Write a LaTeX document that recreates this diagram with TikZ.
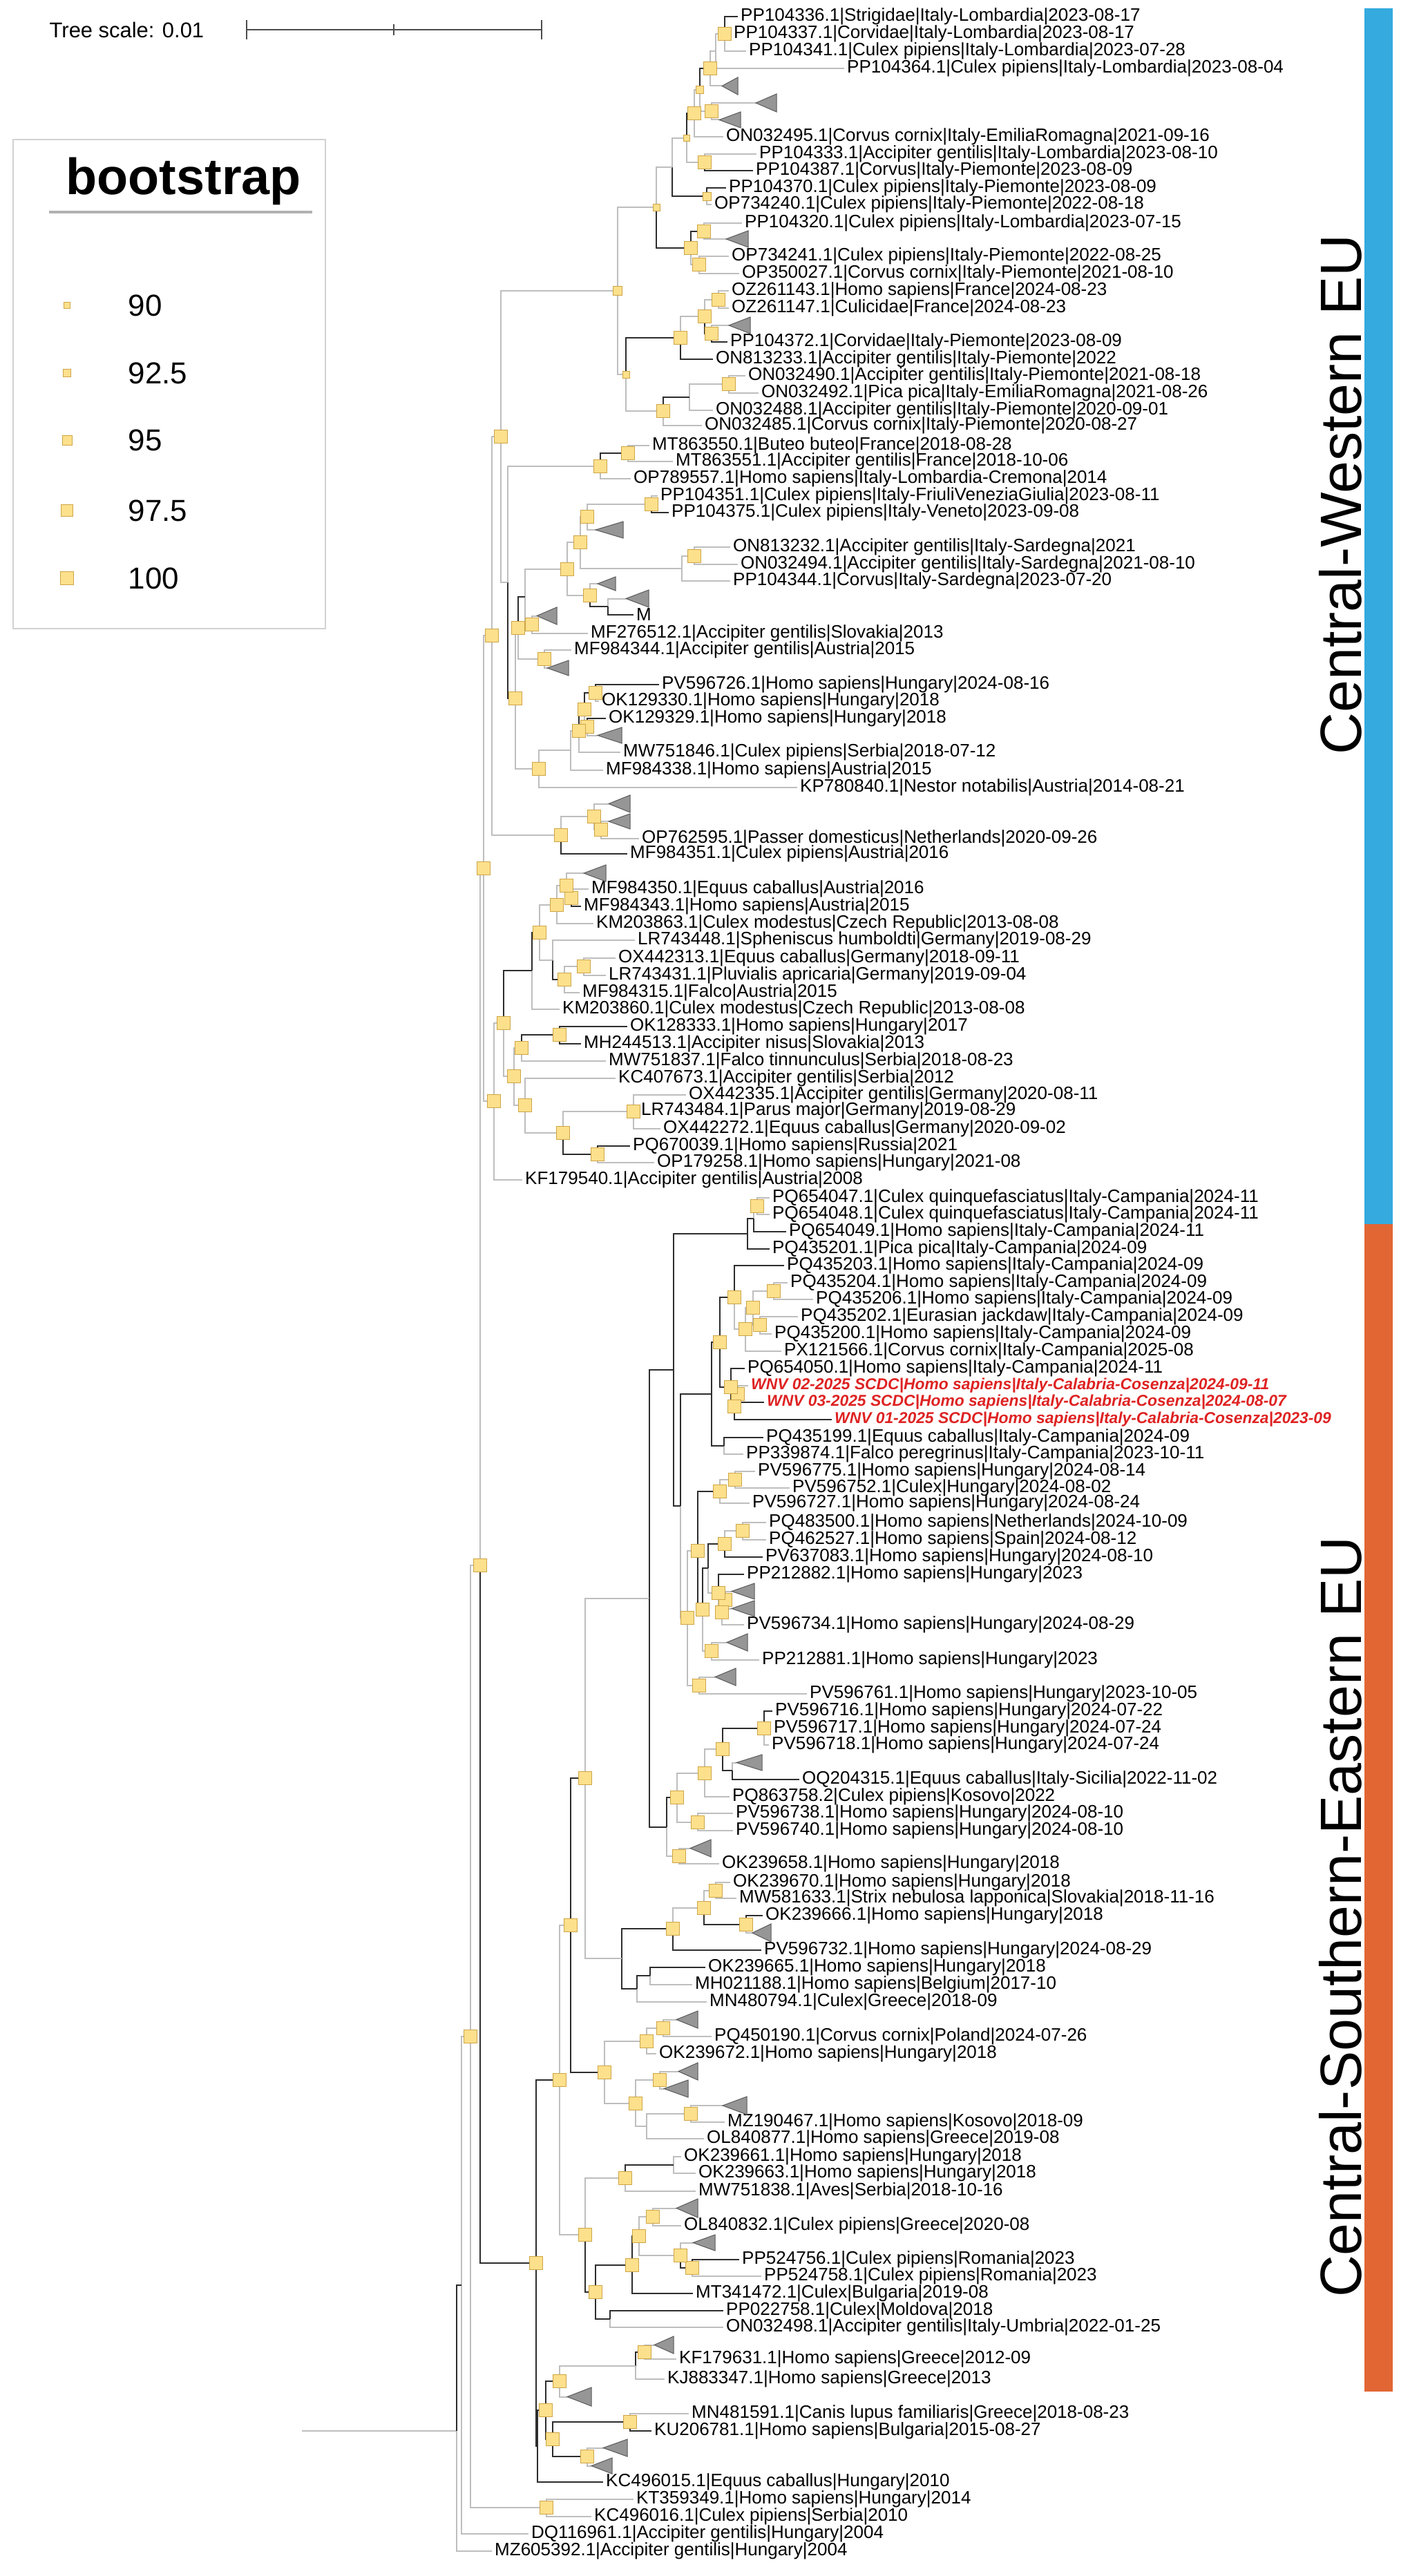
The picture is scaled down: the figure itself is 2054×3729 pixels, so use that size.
\documentclass[tikz,border=0pt]{standalone}
\usepackage{fontspec}
\setmainfont{Liberation Sans}
\usetikzlibrary{positioning}
\definecolor{brlt}{RGB}{190,190,190}
\definecolor{brdk}{RGB}{45,45,45}
\definecolor{bsfill}{RGB}{253,224,140}
\definecolor{bsedge}{RGB}{205,165,70}
\definecolor{trigray}{RGB}{150,150,150}
\definecolor{cwblue}{RGB}{52,170,222}
\definecolor{cseorange}{RGB}{226,102,52}
\definecolor{wnvred}{RGB}{222,34,34}
\newcommand{\leaffont}{\fontsize{7.4}{8}\selectfont}
\newcommand{\wnvfont}{\fontsize{6.5}{8}\selectfont\bfseries\itshape}

\begin{document}
\begin{tikzpicture}[x=0.1mm,y=-0.1mm]
\tikzstyle{lab}=[font=\leaffont, anchor=west, inner xsep=0.35mm, inner ysep=0pt]
\tikzstyle{labw}=[lab, font=\wnvfont, text=wnvred]
\tikzstyle{br}=[line width=0.2mm]
\tikzstyle{bs}=[rectangle, fill=bsfill, draw=bsedge, line width=0.1mm, inner sep=0pt]
\tikzstyle{tri}=[fill=trigray, draw=gray!70!black, line width=0.1mm]
\useasboundingbox (0,0) rectangle (2054,3729);

% internal nodes
\foreach \n/\x/\y/\p/\k in {
a1/1049/49/a2/brlt, a2/1036/74/a3/brlt, a3/1028/99/a6/brdk, a5/1030/161/a6/brlt,
a6/1013/130/a7/brlt, a7/1005/164/a10/brdk, a8/1020/235/a10/brlt, a10/994/200/a11/brlt,
a9/1023/284/a11/brdk, a11/973/242/a15/brlt, a12/1019/335/a14/brdk, a13/1012/383/a14/brlt,
a14/1000/359/a15/brdk, a15/950/300/a24/brlt, a16/1040/434/a18/brlt, a17/1030/483/a18/brdk,
a18/1020/458/a19/brlt, a19/985/489/a23/brdk, a20/1055/556/a21/brlt, a21/998/575/a22/brdk,
a22/960/595/a23/brlt, a23/906/542/a24/brlt, a24/894/421/b1/brlt,
a25/909/656/a26/brdk, a26/869/675/a39/brlt, a27/943/730/a28/brlt, a28/850/748/a31/brlt,
a29/1005/805/a30/brlt, a30/987/823/a31/brlt, a31/840/785/a34/brlt, a32/880/878/a33/brdk,
a33/854/862/a34/brlt, a34/821/824/a36/brlt, a35/770/904/a36/brlt, a36/760/864/a38/brdk,
a37/788/954/a38/brlt, a38/750/909/a47/brlt, a41/862/1003/a43/brdk, a42/850/1052/a43/brlt,
a43/846/1027/a44/brdk, a44/838/1058/a45/brlt, a45/826/1086/a46/brlt, a46/780/1113/a47/brlt,
a47/746/1011/a39/brdk, a39/735/843/b1/brlt, b1/725/632/b2/brlt,
a48/870/1201/a49/brlt, a49/860/1182/a50/brlt, a50/812/1209/b2/brlt, b2/712/920/b3/brlt,
a51/827/1300/a52/brlt, a52/820/1282/a53/brlt, a53/806/1310/a57/brlt, a54/845/1399/a55/brlt,
a55/817/1418/a56/brdk, a56/800/1390/a57/brlt, a57/781/1350/a58/brdk, a58/770/1405/a66/brdk,
a59/810/1498/a60/brdk, a60/755/1517/a65/brlt, a61/917/1609/a63/brlt, a62/865/1671/a63/brdk,
a63/815/1640/a64/brlt, a64/760/1600/a65/brlt, a65/744/1558/a66/brlt, a66/729/1481/a67/brlt,
a67/715/1594/b3/brlt, b3/700/1257/g4/brlt,
c1/1096/1746/c2/brlt, c2/1091/1764/c3/brdk, c3/1082/1786/c29/brdk, c4/1120/1869/c6/brlt,
c5/1100/1918/c6/brlt, c6/1090/1893/c7/brlt, c7/1079/1924/c8/brlt, c8/1063/1878/c12/brdk,
c9/1068/2018/c10/brdk, c10/1063/2036/c11/brdk, c11/1058/2008/c12/brdk, c12/1042/1943/c14/brdk,
c13/1048/2093/c14/brdk, c14/1030/2018/c28/brdk, c15/1064/2142/c16/brlt, c16/1042/2159/c25/brdk,
c17/1075/2216/c18/brlt, c18/1049/2235/c22/brdk, c19/1050/2316/c20/brlt, c20/1045/2334/c21/brlt,
c21/1040/2306/c22/brlt, c22/1025/2270/c24/brdk, c23/1030/2390/c24/brlt, c24/1017/2330/c25/brdk,
c25/1010/2245/c27/brlt, c26/1012/2440/c27/brlt, c27/995/2342/c28/brlt, c28/985/2180/c29/brdk,
c29/975/1983/h1/brdk, h1/940/2314/d16/brlt,
d1/1106/2502/d3/brdk, d2/1060/2563/d3/brdk, d3/1046/2532/d5/brlt, d5/1020/2567/d6/brlt,
d4/1010/2638/d6/brlt, d6/980/2602/d8/brdk, d7/983/2687/d8/brlt, d8/965/2645/h1/brdk,
d9/1036/2737/d11/brlt, d10/1080/2786/d11/brdk, d11/1019/2762/d12/brlt, d12/974/2792/d15/brdk,
d13/941/2860/d14/brdk, d14/922/2879/d15/brdk, d15/900/2835/d16/brlt, d16/847/2574/e18/brdk,
e1/960/2936/e2/brlt, e2/936/2955/e7/brlt, e3/955/3011/e6/brlt, e4/1000/3060/e5/brlt,
e5/936/3078/e6/brlt, e6/920/3045/e7/brlt, e7/875/3000/e18/brdk, e8/975/3134/e9/brdk,
e9/905/3153/e17/brlt, e10/945/3209/e13/brlt, e11/1002/3283/e12/brdk, e12/985/3265/e13/brlt,
e13/925/3237/e14/brdk, e14/915/3279/e16/brdk, e15/883/3357/e16/brdk, e16/862/3318/e17/brdk,
e17/847/3235/e19/brlt, e18/826/2787/e19/brlt, e19/810/3011/f9/brdk,
f1/933/3405/f2/brdk, f2/920/3425/f6/brlt, f6/810/3447/f7/brdk, f3/912/3506/f5/brdk,
f4/850/3556/f5/brdk, f5/800/3531/f7/brdk, f7/790/3489/f8/brdk, f8/778/3541/f9/brdk,
f9/776/3276/g4/brdk, g4/695/2266/g2/brlt, f10/791/3630/g2/brlt, g2/681/2948/g1/brlt,
g1/668/3308/r/brdk}
  \coordinate (\n) at (\x,\y);
\coordinate (r) at (661,3519);
\coordinate (root0) at (437,3519);
\draw[br, draw=brlt] (root0) -- (r);

% leaves
\foreach \n/\p/\x/\y/\k/\lbl in {
l1/a1/1068/24/brdk/PP104336.1|Strigidae|Italy-Lombardia|2023-08-17,
l2/a1/1058/49/brlt/PP104337.1|Corvidae|Italy-Lombardia|2023-08-17,
l3/a1/1080/74/brlt/PP104341.1|Culex pipiens|Italy-Lombardia|2023-07-28,
l4/a2/1222/99/brlt/PP104364.1|Culex pipiens|Italy-Lombardia|2023-08-04,
l6/a7/1047/198/brlt/ON032495.1|Corvus cornix|Italy-EmiliaRomagna|2021-09-16,
l7/a8/1095/223/brlt/PP104333.1|Accipiter gentilis|Italy-Lombardia|2023-08-10,
l8/a8/1090/247/brdk/PP104387.1|Corvus|Italy-Piemonte|2023-08-09,
l9/a9/1051/272/brdk/PP104370.1|Culex pipiens|Italy-Piemonte|2023-08-09,
l10/a9/1030/296/brlt/OP734240.1|Culex pipiens|Italy-Piemonte|2022-08-18,
l11/a12/1074/323/brlt/PP104320.1|Culex pipiens|Italy-Lombardia|2023-07-15,
l13/a13/1055/371/brlt/OP734241.1|Culex pipiens|Italy-Piemonte|2022-08-25,
l14/a13/1070/396/brlt/OP350027.1|Corvus cornix|Italy-Piemonte|2021-08-10,
l15/a16/1055/421/brlt/OZ261143.1|Homo sapiens|France|2024-08-23,
l16/a16/1055/446/brlt/OZ261147.1|Culicidae|France|2024-08-23,
l18/a17/1053/495/brdk/PP104372.1|Corvidae|Italy-Piemonte|2023-08-09,
l19/a19/1032/520/brdk/ON813233.1|Accipiter gentilis|Italy-Piemonte|2022,
l20/a20/1079/544/brlt/ON032490.1|Accipiter gentilis|Italy-Piemonte|2021-08-18,
l21/a20/1098/569/brlt/ON032492.1|Pica pica|Italy-EmiliaRomagna|2021-08-26,
l22/a21/1032/594/brlt/ON032488.1|Accipiter gentilis|Italy-Piemonte|2020-09-01,
l23/a22/1016/616/brlt/ON032485.1|Corvus cornix|Italy-Piemonte|2020-08-27,
l24/a25/940/645/brlt/MT863550.1|Buteo buteo|France|2018-08-28,
l25/a25/974/668/brlt/MT863551.1|Accipiter gentilis|France|2018-10-06,
l26/a26/913/693/brlt/OP789557.1|Homo sapiens|Italy-Lombardia-Cremona|2014,
l27/a27/952/718/brlt/PP104351.1|Culex pipiens|Italy-FriuliVeneziaGiulia|2023-08-11,
l28/a27/968/742/brdk/PP104375.1|Culex pipiens|Italy-Veneto|2023-09-08,
l30/a29/1057/792/brlt/ON813232.1|Accipiter gentilis|Italy-Sardegna|2021,
l31/a29/1068/817/brlt/ON032494.1|Accipiter gentilis|Italy-Sardegna|2021-08-10,
l32/a30/1057/841/brlt/PP104344.1|Corvus|Italy-Sardegna|2023-07-20,
lM/a32/917/890/brdk/M,
l35/a35/851/917/brlt/MF276512.1|Accipiter gentilis|Slovakia|2013,
l36/a37/827/941/brlt/MF984344.1|Accipiter gentilis|Austria|2015,
l38/a41/954/991/brdk/PV596726.1|Homo sapiens|Hungary|2024-08-16,
l39/a41/867/1015/brlt/OK129330.1|Homo sapiens|Hungary|2018,
l40/a42/877/1040/brdk/OK129329.1|Homo sapiens|Hungary|2018,
l42/a44/898/1089/brlt/MW751846.1|Culex pipiens|Serbia|2018-07-12,
l43/a45/873/1115/brlt/MF984338.1|Homo sapiens|Austria|2015,
l44/a46/1154/1140/brlt/KP780840.1|Nestor notabilis|Austria|2014-08-21,
l46/a48/925/1214/brlt/OP762595.1|Passer domesticus|Netherlands|2020-09-26,
l47/a50/908/1236/brdk/MF984351.1|Culex pipiens|Austria|2016,
l48/a51/852/1287/brlt/MF984350.1|Equus caballus|Austria|2016,
l49/a51/841/1312/brdk/MF984343.1|Homo sapiens|Austria|2015,
l50/a53/859/1337/brlt/KM203863.1|Culex modestus|Czech Republic|2013-08-08,
l51/a56/919/1361/brlt/LR743448.1|Spheniscus humboldti|Germany|2019-08-29,
l52/a54/891/1387/brlt/OX442313.1|Equus caballus|Germany|2018-09-11,
l53/a54/877/1412/brlt/LR743431.1|Pluvialis apricaria|Germany|2019-09-04,
l54/a55/839/1437/brlt/MF984315.1|Falco|Austria|2015,
l55/a58/810/1461/brlt/KM203860.1|Culex modestus|Czech Republic|2013-08-08,
l56/a59/908/1486/brdk/OK128333.1|Homo sapiens|Hungary|2017,
l57/a59/841/1511/brdk/MH244513.1|Accipiter nisus|Slovakia|2013,
l58/a60/877/1536/brlt/MW751837.1|Falco tinnunculus|Serbia|2018-08-23,
l59/a64/891/1561/brlt/KC407673.1|Accipiter gentilis|Serbia|2012,
l60/a61/993/1585/brlt/OX442335.1|Accipiter gentilis|Germany|2020-08-11,
l61/a61/924/1608/brlt/LR743484.1|Parus major|Germany|2019-08-29,
l62/a61/956/1634/brlt/OX442272.1|Equus caballus|Germany|2020-09-02,
l63/a62/912/1659/brdk/PQ670039.1|Homo sapiens|Russia|2021,
l64/a62/947/1683/brlt/OP179258.1|Homo sapiens|Hungary|2021-08,
l65/a67/756/1708/brlt/KF179540.1|Accipiter gentilis|Austria|2008,
l66/c1/1114/1734/brlt/PQ654047.1|Culex quinquefasciatus|Italy-Campania|2024-11,
l67/c1/1114/1758/brlt/PQ654048.1|Culex quinquefasciatus|Italy-Campania|2024-11,
l68/c2/1138/1783/brdk/PQ654049.1|Homo sapiens|Italy-Campania|2024-11,
l69/c3/1114/1808/brdk/PQ435201.1|Pica pica|Italy-Campania|2024-09,
l70/c8/1135/1832/brdk/PQ435203.1|Homo sapiens|Italy-Campania|2024-09,
l71/c4/1140/1857/brlt/PQ435204.1|Homo sapiens|Italy-Campania|2024-09,
l72/c4/1177/1881/brlt/PQ435206.1|Homo sapiens|Italy-Campania|2024-09,
l73/c5/1155/1906/brlt/PQ435202.1|Eurasian jackdaw|Italy-Campania|2024-09,
l74/c5/1117/1931/brlt/PQ435200.1|Homo sapiens|Italy-Campania|2024-09,
l75/c7/1131/1956/brlt/PX121566.1|Corvus cornix|Italy-Campania|2025-08,
l76/c11/1078/1981/brdk/PQ654050.1|Homo sapiens|Italy-Campania|2024-11,
l80/c13/1105/2081/brdk/PQ435199.1|Equus caballus|Italy-Campania|2024-09,
l81/c13/1076/2105/brlt/PP339874.1|Falco peregrinus|Italy-Campania|2023-10-11,
l82/c15/1093/2130/brlt/PV596775.1|Homo sapiens|Hungary|2024-08-14,
l83/c15/1143/2154/brlt/PV596752.1|Culex|Hungary|2024-08-02,
l84/c16/1085/2176/brlt/PV596727.1|Homo sapiens|Hungary|2024-08-24,
l85/c17/1109/2204/brlt/PQ483500.1|Homo sapiens|Netherlands|2024-10-09,
l86/c17/1109/2229/brlt/PQ462527.1|Homo sapiens|Spain|2024-08-12,
l87/c18/1104/2254/brdk/PV637083.1|Homo sapiens|Hungary|2024-08-10,
l88/c21/1077/2279/brdk/PP212882.1|Homo sapiens|Hungary|2023,
l89/c20/1077/2352/brlt/PV596734.1|Homo sapiens|Hungary|2024-08-29,
l90/c23/1099/2403/brlt/PP212881.1|Homo sapiens|Hungary|2023,
l91/c26/1168/2452/brlt/PV596761.1|Homo sapiens|Hungary|2023-10-05,
l92/d1/1118/2477/brdk/PV596716.1|Homo sapiens|Hungary|2024-07-22,
l93/d1/1116/2502/brdk/PV596717.1|Homo sapiens|Hungary|2024-07-24,
l94/d1/1113/2526/brlt/PV596718.1|Homo sapiens|Hungary|2024-07-24,
l95/d2/1157/2576/brdk/OQ204315.1|Equus caballus|Italy-Sicilia|2022-11-02,
l96/d5/1056/2601/brlt/PQ863758.2|Culex pipiens|Kosovo|2022,
l97/d4/1061/2625/brlt/PV596738.1|Homo sapiens|Hungary|2024-08-10,
l98/d4/1061/2650/brlt/PV596740.1|Homo sapiens|Hungary|2024-08-10,
l99/d7/1041/2698/brlt/OK239658.1|Homo sapiens|Hungary|2018,
l100/d9/1057/2725/brlt/OK239670.1|Homo sapiens|Hungary|2018,
l101/d9/1066/2748/brlt/MW581633.1|Strix nebulosa lapponica|Slovakia|2018-11-16,
l102/d10/1104/2773/brdk/OK239666.1|Homo sapiens|Hungary|2018,
l103/d12/1102/2823/brdk/PV596732.1|Homo sapiens|Hungary|2024-08-29,
l104/d13/1021/2848/brdk/OK239665.1|Homo sapiens|Hungary|2018,
l105/d13/1002/2873/brlt/MH021188.1|Homo sapiens|Belgium|2017-10,
l106/d14/1023/2898/brlt/MN480794.1|Culex|Greece|2018-09,
l107/e1/1030/2948/brlt/PQ450190.1|Corvus cornix|Poland|2024-07-26,
l108/e2/950/2973/brlt/OK239672.1|Homo sapiens|Hungary|2018,
l109/e4/1049/3072/brlt/MZ190467.1|Homo sapiens|Kosovo|2018-09,
l110/e5/1019/3096/brlt/OL840877.1|Homo sapiens|Greece|2019-08,
l111/e8/986/3122/brlt/OK239661.1|Homo sapiens|Hungary|2018,
l112/e8/1007/3146/brlt/OK239663.1|Homo sapiens|Hungary|2018,
l113/e9/1007/3172/brlt/MW751838.1|Aves|Serbia|2018-10-16,
l114/e10/986/3222/brlt/OL840832.1|Culex pipiens|Greece|2020-08,
l115/e11/1070/3271/brdk/PP524756.1|Culex pipiens|Romania|2023,
l116/e11/1102/3295/brlt/PP524758.1|Culex pipiens|Romania|2023,
l117/e14/1003/3320/brdk/MT341472.1|Culex|Bulgaria|2019-08,
l118/e15/1047/3345/brdk/PP022758.1|Culex|Moldova|2018,
l119/e15/1047/3369/brlt/ON032498.1|Accipiter gentilis|Italy-Umbria|2022-01-25,
l120/f1/979/3415/brlt/KF179631.1|Homo sapiens|Greece|2012-09,
l121/f2/962/3444/brlt/KJ883347.1|Homo sapiens|Greece|2013,
l122/f3/997/3494/brlt/MN481591.1|Canis lupus familiaris|Greece|2018-08-23,
l123/f3/943/3519/brdk/KU206781.1|Homo sapiens|Bulgaria|2015-08-27,
l124/f8/873/3593/brdk/KC496015.1|Equus caballus|Hungary|2010,
l125/f10/917/3618/brlt/KT359349.1|Homo sapiens|Hungary|2014,
l126/f10/856/3643/brlt/KC496016.1|Culex pipiens|Serbia|2010,
l127/g1/765/3668/brlt/DQ116961.1|Accipiter gentilis|Hungary|2004,
l128/r/712/3693/brlt/MZ605392.1|Accipiter gentilis|Hungary|2004}
{
  \node[lab] (\n) at (\x,\y) {\lbl};
  \draw[br, draw=\k] (\p) |- (\n.west);
}
\foreach \n/\p/\x/\y/\k/\lbl in {
w2/c9/1083/2006/brlt/WNV 02-2025 SCDC|Homo sapiens|Italy-Calabria-Cosenza|2024-09-11,
w3/c9/1106/2030/brdk/WNV 03-2025 SCDC|Homo sapiens|Italy-Calabria-Cosenza|2024-08-07,
w1/c10/1204/2055/brdk/WNV 01-2025 SCDC|Homo sapiens|Italy-Calabria-Cosenza|2023-09}
{
  \node[labw] (\n) at (\x,\y) {\lbl};
  \draw[br, draw=\k] (\p) |- (\n.west);
}

% collapsed clades
\foreach \n/\p/\xa/\xb/\ya/\yb in {
t1/a3/1045/1068/112/137, t2/a5/1094/1124/136/162, t3/a5/1041/1072/162/185,
t4/a12/1051/1083/334/358, t5/a17/1055/1086/459/483, t6/a28/862/902/755/779,
t7/a33/865/891/835/855, t8/a32/906/939/854/879, t9/a35/777/806/879/904,
t10/a37/792/823/956/978, t11/a42/865/900/1053/1076, t12/a49/881/912/1151/1176,
t13/a48/881/912/1178/1200, t14/a52/845/877/1252/1276, t15/c19/1059/1092/2292/2315,
t16/c19/1059/1092/2317/2340, t17/c23/1052/1082/2365/2390, t18/c26/1035/1065/2415/2440,
t19/d2/1066/1103/2540/2563, t20/d7/999/1029/2663/2688, t21/d10/1089/1116/2785/2811,
t22/e1/979/1010/2911/2936, t23/e3/982/1010/2986/3011, t24/e3/961/996/3011/3036,
t25/e4/1046/1081/3035/3061, t26/e10/979/1010/3183/3210, t27/e12/1003/1035/3235/3258,
t28/f1/947/975/3382/3407, t29/f6/821/856/3456/3483, t30/f4/873/908/3531/3556,
t31/f4/856/886/3558/3581}
{
  \coordinate (\n) at (\xa,{(\ya+\yb)/2});
  \draw[br, draw=brlt] (\p) |- (\n);
  \filldraw[tri] (\n) -- (\xb,\ya) -- (\xb,\yb) -- cycle;
}

% internal branches
\foreach \n/\x/\y/\p/\k in {
a1/1049/49/a2/brlt, a2/1036/74/a3/brlt, a3/1028/99/a6/brdk, a5/1030/161/a6/brlt,
a6/1013/130/a7/brlt, a7/1005/164/a10/brdk, a8/1020/235/a10/brlt, a10/994/200/a11/brlt,
a9/1023/284/a11/brdk, a11/973/242/a15/brlt, a12/1019/335/a14/brdk, a13/1012/383/a14/brlt,
a14/1000/359/a15/brdk, a15/950/300/a24/brlt, a16/1040/434/a18/brlt, a17/1030/483/a18/brdk,
a18/1020/458/a19/brlt, a19/985/489/a23/brdk, a20/1055/556/a21/brlt, a21/998/575/a22/brdk,
a22/960/595/a23/brlt, a23/906/542/a24/brlt, a24/894/421/b1/brlt,
a25/909/656/a26/brdk, a26/869/675/a39/brlt, a27/943/730/a28/brlt, a28/850/748/a31/brlt,
a29/1005/805/a30/brlt, a30/987/823/a31/brlt, a31/840/785/a34/brlt, a32/880/878/a33/brdk,
a33/854/862/a34/brlt, a34/821/824/a36/brlt, a35/770/904/a36/brlt, a36/760/864/a38/brdk,
a37/788/954/a38/brlt, a38/750/909/a47/brlt, a41/862/1003/a43/brdk, a42/850/1052/a43/brlt,
a43/846/1027/a44/brdk, a44/838/1058/a45/brlt, a45/826/1086/a46/brlt, a46/780/1113/a47/brlt,
a47/746/1011/a39/brdk, a39/735/843/b1/brlt, b1/725/632/b2/brlt,
a48/870/1201/a49/brlt, a49/860/1182/a50/brlt, a50/812/1209/b2/brlt, b2/712/920/b3/brlt,
a51/827/1300/a52/brlt, a52/820/1282/a53/brlt, a53/806/1310/a57/brlt, a54/845/1399/a55/brlt,
a55/817/1418/a56/brdk, a56/800/1390/a57/brlt, a57/781/1350/a58/brdk, a58/770/1405/a66/brdk,
a59/810/1498/a60/brdk, a60/755/1517/a65/brlt, a61/917/1609/a63/brlt, a62/865/1671/a63/brdk,
a63/815/1640/a64/brlt, a64/760/1600/a65/brlt, a65/744/1558/a66/brlt, a66/729/1481/a67/brlt,
a67/715/1594/b3/brlt, b3/700/1257/g4/brlt,
c1/1096/1746/c2/brlt, c2/1091/1764/c3/brdk, c3/1082/1786/c29/brdk, c4/1120/1869/c6/brlt,
c5/1100/1918/c6/brlt, c6/1090/1893/c7/brlt, c7/1079/1924/c8/brlt, c8/1063/1878/c12/brdk,
c9/1068/2018/c10/brdk, c10/1063/2036/c11/brdk, c11/1058/2008/c12/brdk, c12/1042/1943/c14/brdk,
c13/1048/2093/c14/brdk, c14/1030/2018/c28/brdk, c15/1064/2142/c16/brlt, c16/1042/2159/c25/brdk,
c17/1075/2216/c18/brlt, c18/1049/2235/c22/brdk, c19/1050/2316/c20/brlt, c20/1045/2334/c21/brlt,
c21/1040/2306/c22/brlt, c22/1025/2270/c24/brdk, c23/1030/2390/c24/brlt, c24/1017/2330/c25/brdk,
c25/1010/2245/c27/brlt, c26/1012/2440/c27/brlt, c27/995/2342/c28/brlt, c28/985/2180/c29/brdk,
c29/975/1983/h1/brdk, h1/940/2314/d16/brlt,
d1/1106/2502/d3/brdk, d2/1060/2563/d3/brdk, d3/1046/2532/d5/brlt, d5/1020/2567/d6/brlt,
d4/1010/2638/d6/brlt, d6/980/2602/d8/brdk, d7/983/2687/d8/brlt, d8/965/2645/h1/brdk,
d9/1036/2737/d11/brlt, d10/1080/2786/d11/brdk, d11/1019/2762/d12/brlt, d12/974/2792/d15/brdk,
d13/941/2860/d14/brdk, d14/922/2879/d15/brdk, d15/900/2835/d16/brlt, d16/847/2574/e18/brdk,
e1/960/2936/e2/brlt, e2/936/2955/e7/brlt, e3/955/3011/e6/brlt, e4/1000/3060/e5/brlt,
e5/936/3078/e6/brlt, e6/920/3045/e7/brlt, e7/875/3000/e18/brdk, e8/975/3134/e9/brdk,
e9/905/3153/e17/brlt, e10/945/3209/e13/brlt, e11/1002/3283/e12/brdk, e12/985/3265/e13/brlt,
e13/925/3237/e14/brdk, e14/915/3279/e16/brdk, e15/883/3357/e16/brdk, e16/862/3318/e17/brdk,
e17/847/3235/e19/brlt, e18/826/2787/e19/brlt, e19/810/3011/f9/brdk,
f1/933/3405/f2/brdk, f2/920/3425/f6/brlt, f6/810/3447/f7/brdk, f3/912/3506/f5/brdk,
f4/850/3556/f5/brdk, f5/800/3531/f7/brdk, f7/790/3489/f8/brdk, f8/778/3541/f9/brdk,
f9/776/3276/g4/brdk, g4/695/2266/g2/brlt, f10/791/3630/g2/brlt, g2/681/2948/g1/brlt,
g1/668/3308/r/brdk}
  \draw[br, draw=\k] (\p) |- (\n);

% bootstrap symbols
\foreach \n/\w in {a1/1.9, a3/1.9, a5/1.9, a6/1.1, a7/1.9, a8/1.9, a9/1.2, a10/0.9, a12/1.9,
a13/1.9, a14/1.9, a15/1.0, a16/1.9, a17/1.9, a18/1.9, a19/1.9, a20/1.9, a22/1.9, a23/1.0,
a24/1.3, a25/1.9, a26/1.9, a27/1.9, a28/1.9, a29/1.9, a31/1.9, a33/1.9, a34/1.9, a35/1.9,
a37/1.9, a38/1.9, a41/1.9, a42/1.9, a43/1.9, a44/1.9, a46/1.9, a47/1.9, a48/1.9, a49/1.9,
a50/1.9, a51/1.9, a52/1.9, a53/1.9, a54/1.9, a55/1.9, a57/1.9, a59/1.9, a60/1.9, a61/1.9,
a62/1.9, a63/1.9, a64/1.9, a65/1.9, a66/1.9, a67/1.9, b1/1.9, b2/1.9, b3/1.9,
c1/1.9, c4/1.9, c5/1.9, c6/1.9, c7/1.9, c8/1.9, c9/1.9, c10/1.9, c11/1.9, c12/1.9, c15/1.9,
c16/1.9, c17/1.9, c18/1.9, c19/1.9, c20/1.9, c21/1.9, c23/1.9, c24/1.9, c25/1.9, c26/1.9,
c27/1.9, d1/1.9, d3/1.9, d4/1.9, d5/1.9, d6/1.9, d7/1.9, d9/1.9, d10/1.9, d11/1.9, d12/1.9,
d16/1.9, e1/1.9, e2/1.9, e3/1.9, e4/1.9, e6/1.9, e7/1.9, e9/1.9, e10/1.9, e11/1.9, e12/1.9,
e13/1.9, e14/1.9, e16/1.9, e17/1.9, e18/1.9, e19/1.9, f1/1.9, f3/1.9, f4/1.9, f5/1.9,
f6/1.9, f7/1.9, f9/1.9, f10/1.9, g2/1.9, g4/1.9}
  \node[bs, minimum size=\w mm] (s\n) at (\n) {};

% scale
\node[anchor=west, font=\fontsize{8.8}{10}\selectfont, inner sep=0pt] (tscale) at (71,43) {Tree scale: 0.01};
\coordinate (sb0) at (357,43);
\coordinate (sbm) at (570,43);
\coordinate (sb1) at (784,43);
\draw[gray!60!black, line width=0.25mm] (sb0) -- (sb1);
\draw[gray!60!black, line width=0.25mm] (sb0) ++(0,-14) -- ++(0,28);
\draw[gray!60!black, line width=0.25mm] (sb1) ++(0,-14) -- ++(0,28);
\draw[gray!60!black, line width=0.25mm] (sbm) ++(0,-8) -- ++(0,16);

% legend
\draw[gray!35, line width=0.2mm] (19,202) rectangle (471,910);
\node[anchor=west, font=\fontsize{21}{24}\selectfont\bfseries, inner sep=0pt] (legtitle) at (95,262) {bootstrap};
\draw[gray!60, line width=0.35mm] (71,307) -- (452,307);
\foreach \v/\w/\y [count=\i] in {90/0.9/442, 92.5/1.15/540, 95/1.4/637, 97.5/1.65/739, 100/1.9/837}
{
  \node[bs, minimum size=\w mm] (legsq\i) at (97,\y) {};
  \node[anchor=west, font=\fontsize{12.5}{15}\selectfont, inner sep=0pt] (legval\i) at (185,\y) {\v};
}

% clade strips
\fill[cwblue] (1975,12) rectangle (2016,1772);
\fill[cseorange] (1975,1772) rectangle (2016,3462);
\node[rotate=90, font=\fontsize{24}{28}\selectfont] (cwlab) at (1940,716) {Central-Western EU};
\node[rotate=90, font=\fontsize{24}{28}\selectfont] (cselab) at (1940,2775) {Central-Southern-Eastern EU};
\end{tikzpicture}
\end{document}
